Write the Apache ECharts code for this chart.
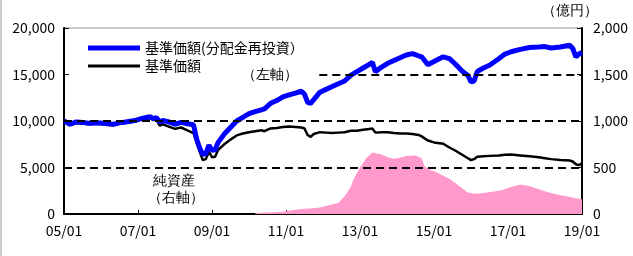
<!DOCTYPE html>
<html>
<head>
<meta charset="utf-8">
<script src="https://cdn.jsdelivr.net/npm/echarts@6/dist/echarts.min.js"></script>
<style>
  html, body { margin: 0; padding: 0; background: #fff; }
  #chart { width: 633px; height: 256px; }
</style>
</head>
<body>
<div id="chart"></div>
<script>
// 基準価額の日付（年-月）
var dates = [
  '2005-01','2005-03','2005-05','2005-07','2005-09','2005-12','2006-03','2006-05','2006-07','2006-09','2006-12',
  '2007-02','2007-04','2007-05','2007-06','2007-07','2007-08','2007-09','2007-11',
  '2008-01','2008-03','2008-05','2008-07','2008-08','2008-09','2008-10','2008-11','2008-12',
  '2009-01','2009-02','2009-03','2009-05','2009-07','2009-09','2009-11',
  '2010-01','2010-03','2010-05','2010-06','2010-08','2010-10','2010-12',
  '2011-02','2011-04','2011-06','2011-07','2011-08','2011-09','2011-10','2011-12',
  '2012-02','2012-04','2012-06','2012-08','2012-10','2012-12',
  '2013-02','2013-04','2013-05','2013-06','2013-08','2013-10','2013-12',
  '2014-02','2014-04','2014-06','2014-08','2014-09','2014-11',
  '2015-01','2015-04','2015-06','2015-08','2015-10','2015-12',
  '2016-01','2016-02','2016-03','2016-05','2016-07','2016-10','2016-12',
  '2017-02','2017-05','2017-08','2017-11',
  '2018-01','2018-03','2018-06','2018-09','2018-10','2018-11','2018-12','2019-01'
];
// 基準価額(分配金再投資)
var navReinvest = [
  10000,9650,9900,9850,9750,9800,9700,9650,9800,9900,10050,
  10250,10400,10450,10250,10350,9900,10050,9900,
  9650,9850,9700,9600,8100,7100,6400,6500,7400,
  6850,6900,7700,8600,9300,10000,10400,
  10800,11000,11200,11300,11900,12200,12600,
  12800,13000,13200,12900,12000,11900,12300,13100,
  13400,13700,14000,14300,14900,15300,
  15700,16100,16300,15300,15800,16200,16500,
  16800,17100,17250,17000,16900,16050,
  16400,16900,16700,16100,15400,14900,
  14200,14300,15300,15700,16000,16700,17200,
  17450,17700,17900,17950,
  18000,17850,17950,18150,17800,16900,17200,17350
];
// 基準価額
var nav = [
  9950,9550,9800,9750,9650,9700,9600,9550,9700,9800,9950,
  10150,10250,10300,10100,10150,9500,9650,9400,
  9150,9300,9000,8700,7700,6700,5800,5900,6700,
  6100,6150,6900,7500,8000,8450,8650,
  8800,8900,9000,8900,9200,9250,9350,
  9400,9350,9300,9200,8500,8300,8600,8800,
  8750,8700,8750,8800,8950,8950,
  9050,9150,9200,8750,8800,8800,8700,
  8650,8650,8600,8500,8350,7900,
  7700,7550,7150,6800,6400,6000,
  5800,5900,6150,6200,6250,6300,6380,
  6400,6300,6200,6100,
  6000,5900,5800,5750,5650,5350,5250,5450
];
// 純資産（億円）
var assetDates = [
  '2010-03','2010-06','2010-09','2010-12','2011-03','2011-06','2011-09','2011-12',
  '2012-03','2012-06','2012-08','2012-10','2012-11','2013-01','2013-03','2013-05','2013-08','2013-10','2013-12',
  '2014-02','2014-04','2014-07','2014-09','2014-10','2014-12',
  '2015-02','2015-04','2015-06','2015-08','2015-10','2015-12',
  '2016-02','2016-05','2016-08','2016-11',
  '2017-02','2017-05','2017-08','2017-11',
  '2018-02','2018-05','2018-08','2018-11','2019-01'
];
var netAssets = [
  8,15,20,25,40,55,60,70,
  95,120,190,290,380,500,600,660,640,610,595,
  605,625,630,600,510,470,
  445,410,380,330,280,230,
  218,225,240,255,
  290,318,300,265,
  235,210,190,170,158
];
var xTicks = [2005, 2019, 2];  // min, max, interval

function toYear(s) {
  var p = s.split('-');
  return +p[0] + (p[1] - 1) / 12;
}
function pairs(ds, vs) {
  return ds.map(function (d, i) { return [toYear(d), vs[i]]; });
}
function comma(v) {
  return String(v).replace(/\B(?=(\d{3})+(?!\d))/g, ',');
}

var font = "'Noto Sans CJK JP', sans-serif";
var chart = echarts.init(document.getElementById('chart'));

var option = {
  animation: false,
  textStyle: { fontFamily: font },
  grid: {
    left: 64, right: 51, top: 28, bottom: 42,
    show: true, borderColor: '#999', borderWidth: 1
  },
  legend: [
    {
      data: ['基準価額(分配金再投資）'],
      left: 88, top: 41, padding: 0,
      icon: 'rect', itemWidth: 52, itemHeight: 5,
      textStyle: { fontSize: 14, color: '#000', fontFamily: font }
    },
    {
      data: ['基準価額'],
      left: 88, top: 59, padding: 0,
      icon: 'rect', itemWidth: 52, itemHeight: 3,
      textStyle: { fontSize: 14, color: '#000', fontFamily: font }
    }
  ],
  xAxis: {
    type: 'value',
    min: xTicks[0], max: xTicks[1], interval: xTicks[2],
    axisLine: { lineStyle: { color: '#000', width: 2 } },
    axisTick: { inside: true, length: 4, lineStyle: { color: '#000' } },
    axisLabel: {
      margin: 10, fontSize: 14, color: '#000', fontFamily: font,
      formatter: function (v) { return String(v).slice(2) + '/01'; }
    },
    splitLine: { show: false }
  },
  yAxis: [
    {
      type: 'value', min: 0, max: 20000, interval: 5000,
      axisLine: { show: true, lineStyle: { color: '#000', width: 2 } },
      axisTick: { show: true, inside: true, length: 5, lineStyle: { color: '#000' } },
      axisLabel: { margin: 9, fontSize: 14, color: '#000', fontFamily: font, formatter: comma },
      splitLine: { show: false }
    },
    {
      type: 'value', min: 0, max: 2000, interval: 500,
      axisLine: { show: true, lineStyle: { color: '#000', width: 2 } },
      axisTick: { show: true, inside: true, length: 5, lineStyle: { color: '#000' } },
      axisLabel: { margin: 11, fontSize: 14, color: '#000', fontFamily: font, formatter: comma },
      splitLine: { show: false }
    }
  ],
  series: [
    {
      name: 'guide',
      type: 'line',
      data: [],
      z: 1,
      markLine: {
        silent: true,
        symbol: ['none', 'none'],
        label: { show: false },
        lineStyle: { color: '#000', type: [8, 5], width: 2 },
        data: [
          { yAxis: 5000 },
          { yAxis: 10000 },
          [{ coord: [2011.9, 15000] }, { coord: [2019, 15000] }]
        ]
      }
    },
    {
      name: '純資産',
      type: 'line',
      yAxisIndex: 1,
      z: 2,
      symbol: 'none',
      data: pairs(assetDates, netAssets),
      lineStyle: { width: 0, color: '#ff99cc' },
      areaStyle: { color: '#ff99cc', opacity: 1 }
    },
    {
      name: '基準価額',
      type: 'line',
      z: 3,
      symbol: 'none',
      data: pairs(dates, nav),
      itemStyle: { color: '#000' },
      lineStyle: { color: '#000', width: 2.5 }
    },
    {
      name: '基準価額(分配金再投資）',
      type: 'line',
      z: 4,
      symbol: 'none',
      data: pairs(dates, navReinvest),
      itemStyle: { color: '#0000ff' },
      lineStyle: { color: '#0000ff', width: 5 }
    }
  ],
  graphic: [
    { type: 'line', shape: { x1: 1, y1: 0, x2: 1, y2: 256 }, style: { stroke: '#999', lineWidth: 1 } },
    { type: 'text', left: 542, top: 4, z: 10, style: { text: '（億円）', fontSize: 14, fill: '#000', font: '14px ' + font } },
    { type: 'text', left: 242, top: 68, z: 10, style: { text: '（左軸）', fontSize: 14, fill: '#000', font: '14px ' + font } },
    { type: 'text', left: 153, top: 174, z: 10, style: { text: '純資産', fontSize: 14, fill: '#000', font: '14px ' + font } },
    { type: 'text', left: 148, top: 191, z: 10, style: { text: '（右軸）', fontSize: 14, fill: '#000', font: '14px ' + font } }
  ]
};

chart.setOption(option);
</script>
</body>
</html>
